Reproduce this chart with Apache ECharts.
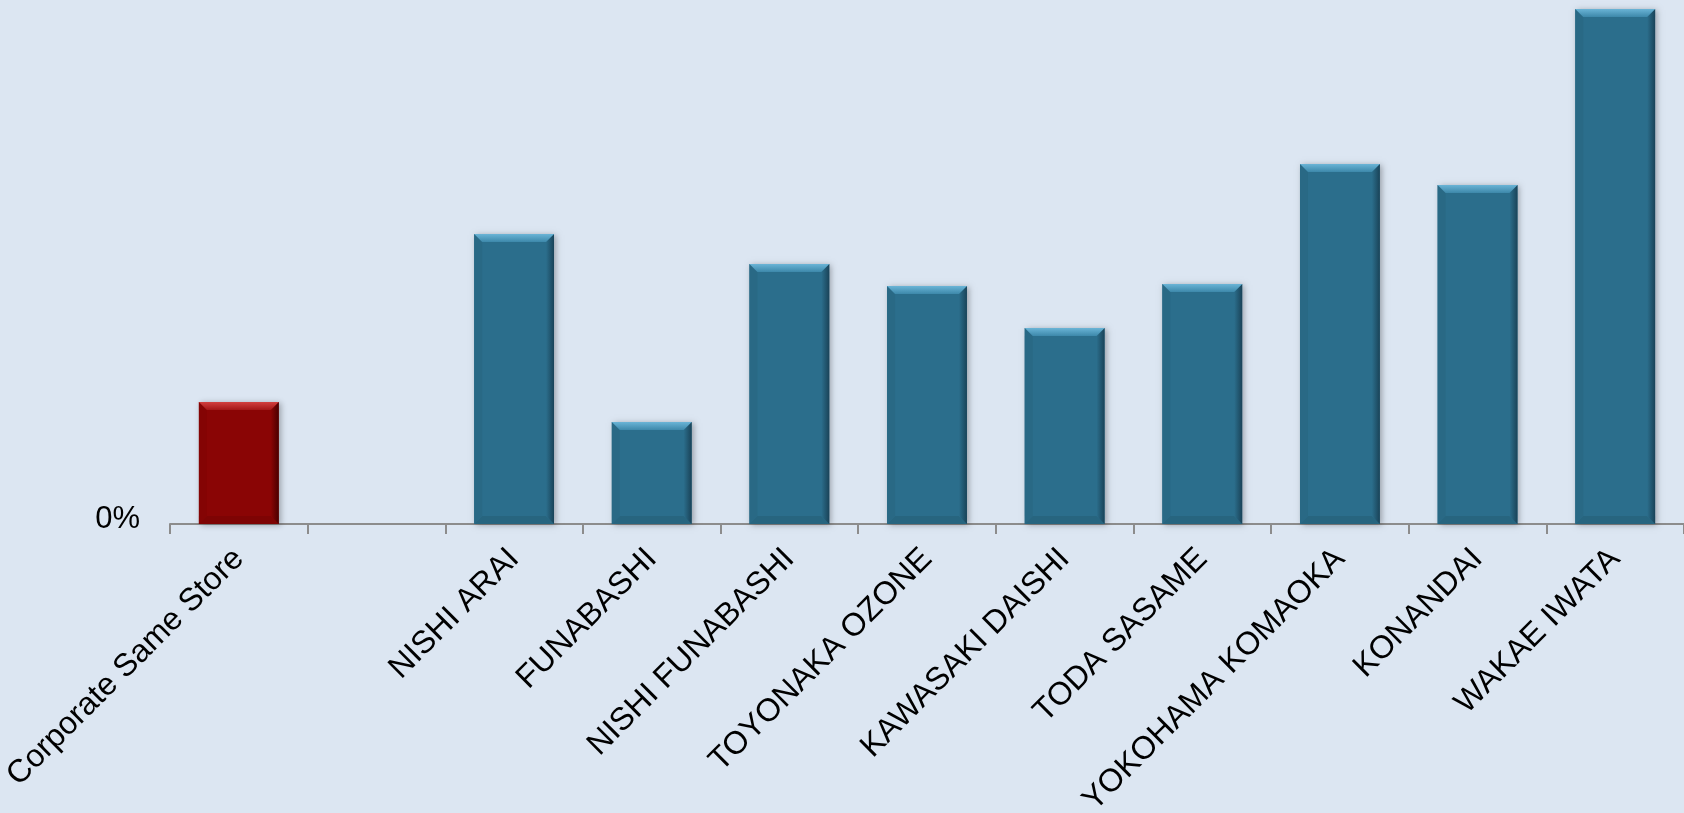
<!DOCTYPE html>
<html>
<head>
<meta charset="utf-8">
<script src="https://cdn.jsdelivr.net/npm/echarts@6/dist/echarts.min.js"></script>
<style>
  html,body{margin:0;padding:0;background:#dce6f2;}
  #chart{width:1684px;height:813px;}
</style>
</head>
<body>
<div id="chart"></div>
<script>
// ===== Data =====
const categories = ['Corporate Same Store','','NISHI ARAI','FUNABASHI','NISHI FUNABASHI','TOYONAKA OZONE',
  'KAWASAKI DAISHI','TODA SASAME','YOKOHAMA KOMAOKA','KONANDAI','WAKAE IWATA'];
const values = [1.22, null, 2.90, 1.02, 2.60, 2.38, 1.96, 2.40, 3.60, 3.39, 5.15];
const highlight = [true,false,false,false,false,false,false,false,false,false,false];

const PAL = {
  blue: {main:'#2b6e8c', top:['#6ab4d6','#3d88aa'], right:['#2b6e8c','#1a4358'], left:'#296985', bottom:'#27657f'},
  red:  {main:'#8a0505', top:['#d2403f','#a31616'], right:['#8a0505','#4a0000'], left:'#840404', bottom:'#7e0404'}
};

const chart = echarts.init(document.getElementById('chart'), null, {renderer:'canvas'});

function renderBar(params, api){
  const v = api.value(1);
  if (v == null || isNaN(v)) return null;
  const idx = api.value(0);
  const top = api.coord([idx, v]);
  const base = api.coord([idx, 0]);
  const w = api.size([1, 0])[0] * 0.58;
  const x0 = top[0] - w/2, x1 = top[0] + w/2, y0 = top[1], y1 = base[1];
  const b = 8;
  const p = highlight[params.dataIndex] ? PAL.red : PAL.blue;
  return {
    type:'group',
    children:[
      {type:'rect', shape:{x:x0, y:y0, width:w, height:y1-y0},
        style:{fill:p.main, shadowBlur:6, shadowColor:'rgba(0,0,0,0.3)', shadowOffsetX:2, shadowOffsetY:1}},
      {type:'polygon', shape:{points:[[x0,y1],[x1,y1],[x1-b,y1-b],[x0+b,y1-b]]}, style:{fill:p.bottom}},
      {type:'polygon', shape:{points:[[x0,y0],[x0+b,y0+b],[x0+b,y1-b],[x0,y1]]}, style:{fill:p.left}},
      {type:'polygon', shape:{points:[[x1,y0],[x1,y1],[x1-b,y1-b],[x1-b,y0+b]]},
        style:{fill:new echarts.graphic.LinearGradient(0,0,1,0,[{offset:0,color:p.right[0]},{offset:1,color:p.right[1]}])}},
      {type:'polygon', shape:{points:[[x0,y0],[x1,y0],[x1-b,y0+b],[x0+b,y0+b]]},
        style:{fill:new echarts.graphic.LinearGradient(0,0,0,1,[{offset:0,color:p.top[0]},{offset:1,color:p.top[1]}])}}
    ]
  };
}

chart.setOption({
  backgroundColor:'#dce6f2',
  animation:false,
  grid:{left:170, right:0, top:4, bottom:289, containLabel:false, outerBoundsMode:'none'},
  xAxis:{
    type:'category', data:categories,
    axisLine:{lineStyle:{color:'#8c8c8c', width:2}},
    axisTick:{show:true, length:10, alignWithLabel:false, lineStyle:{color:'#8c8c8c', width:2}},
    axisLabel:{rotate:45, interval:0, margin:30, color:'#000', fontFamily:'Liberation Sans, Arial, sans-serif', fontSize:32}
  },
  yAxis:{
    type:'value', min:0, max:5.2, interval:5.2,
    axisLine:{show:false}, axisTick:{show:false}, splitLine:{show:false},
    axisLabel:{margin:30, color:'#000', fontFamily:'Liberation Sans, Arial, sans-serif', fontSize:31,
      verticalAlign:'bottom', lineHeight:10, formatter:v => v === 0 ? '0%' : ''}
  },
  series:[{
    type:'custom',
    renderItem:renderBar,
    encode:{x:0, y:1},
    data:values.map((v,i)=>[i, v])
  }]
});
</script>
</body>
</html>
